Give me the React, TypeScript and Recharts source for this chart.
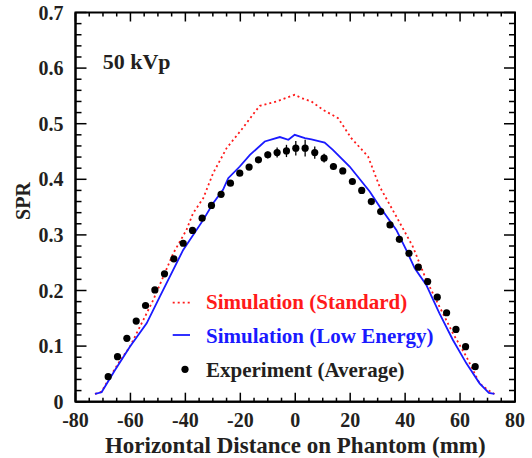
import { ComposedChart, Line, Scatter, ErrorBar, XAxis, YAxis } from 'recharts';

// experiment (average) points
const expX = [
  -68.1, -64.7, -61.3, -57.9, -54.5, -51.1, -47.6, -44.2, -40.8, -37.4,
  -33.9, -30.5, -27.0, -23.6, -20.2, -16.8, -13.4, -10.0, -6.6, -3.2,
  0.2, 3.6, 7.1, 10.5, 13.9, 17.3, 20.8, 24.2, 27.7, 31.1,
  34.5, 37.9, 41.4, 44.8, 48.2, 51.7, 55.1, 58.5, 62.0, 65.5,
];
const expY = [
  0.045, 0.081, 0.114, 0.145, 0.173, 0.201, 0.23, 0.257, 0.285, 0.308,
  0.33, 0.353, 0.373, 0.393, 0.411, 0.422, 0.435, 0.444, 0.448, 0.451,
  0.456, 0.456, 0.448, 0.438, 0.423, 0.415, 0.396, 0.38, 0.36, 0.342,
  0.318, 0.292, 0.267, 0.242, 0.216, 0.188, 0.16, 0.13, 0.099, 0.063,
];
const expErr = [
  0.003, 0.003, 0.003, 0.003, 0.003, 0.003, 0.003, 0.003, 0.003, 0.003,
  0.003, 0.003, 0.003, 0.003, 0.003, 0.004, 0.005, 0.006, 0.009, 0.011,
  0.013, 0.015, 0.011, 0.008, 0.006, 0.004, 0.003, 0.003, 0.003, 0.003,
  0.003, 0.003, 0.003, 0.003, 0.003, 0.003, 0.003, 0.003, 0.003, 0.003,
];

// simulation (standard)
const stdX = [
  -72.9, -70.5, -68.1, -64.4, -60.2, -55.3, -51.7, -47.5, -44.4, -39.6,
  -37.2, -33.5, -29.9, -25.0, -19.6, -14.1, -12.9, -6.8, -0.2, 2.3,
  5.9, 10.1, 15.6, 20.4, 26.5, 30.7, 36.8, 42.8, 47.7, 52.5,
  57.4, 62.3, 67.1, 70.1, 72.5,
];
const stdY = [
  0.014, 0.018, 0.039, 0.069, 0.099, 0.147, 0.183, 0.231, 0.267, 0.309,
  0.339, 0.366, 0.411, 0.456, 0.489, 0.525, 0.532, 0.54, 0.552, 0.546,
  0.54, 0.525, 0.51, 0.474, 0.441, 0.387, 0.333, 0.279, 0.219, 0.171,
  0.123, 0.081, 0.033, 0.021, 0.014,
];

// simulation (low energy)
const lowX = [
  -72.9, -70.5, -69.3, -65.6, -60.2, -54.1, -49.3, -40.8, -33.5, -29.9,
  -26.3, -24.4, -20.2, -16.5, -11.1, -5.6, -2.5, -0.2, 3.5, 5.9,
  10.7, 13.7, 19.8, 27.1, 30.7, 36.8, 40.4, 43.5, 47.7, 52.5,
  57.4, 62.3, 67.1, 70.5, 72.5,
];
const lowY = [
  0.014, 0.017, 0.027, 0.057, 0.099, 0.141, 0.189, 0.273, 0.327, 0.357,
  0.381, 0.402, 0.423, 0.444, 0.468, 0.476, 0.471, 0.48, 0.474, 0.472,
  0.466, 0.453, 0.423, 0.378, 0.351, 0.309, 0.273, 0.24, 0.21, 0.159,
  0.111, 0.069, 0.033, 0.016, 0.014,
];

const xMajor = [-80, -60, -40, -20, 0, 20, 40, 60, 80];
const yMajor = [0, 0.1, 0.2, 0.3, 0.4, 0.5, 0.6, 0.7];
const xTicks = Array.from({ length: 33 }, (_, i) => -80 + 5 * i);
const yTicks = Array.from({ length: 36 }, (_, i) => +(i * 0.02).toFixed(2));

const expData = expX.map((x, i) => ({ x, y: expY[i], err: expErr[i] }));
const stdData = stdX.map((x, i) => ({ x, y: stdY[i] }));
const lowData = lowX.map((x, i) => ({ x, y: lowY[i] }));

const FONT = '"Liberation Serif", "DejaVu Serif", serif';
const INK = '#231f20';
const RED = '#ff1a1a';
const BLUE = '#1a1aff';

// chart box
const W = 532;
const H = 458;
const MARGIN = { top: 12.5, right: 17, bottom: 0, left: 15.5 };
const Y_AXIS_W = 60;
const X_AXIS_H = 56.3;
const X_DOMAIN = [-80, 80];
const Y_DOMAIN = [0, 0.7];

// plot box, same numbers recharts uses for its offset
const PL = MARGIN.left + Y_AXIS_W;
const PR = W - MARGIN.right;
const PT = MARGIN.top;
const PB = H - MARGIN.bottom - X_AXIS_H;
const sx = (v: number) => PL + ((v - X_DOMAIN[0]) / (X_DOMAIN[1] - X_DOMAIN[0])) * (PR - PL);
const sy = (v: number) => PB - ((v - Y_DOMAIN[0]) / (Y_DOMAIN[1] - Y_DOMAIN[0])) * (PB - PT);

const isXMajor = (v: number) => xMajor.includes(v);
const isYMajor = (v: number) => yMajor.some((m) => Math.abs(m - v) < 1e-6);

const BottomTick = ({ x, y, payload }: any) => {
  const major = isXMajor(payload.value);
  return (
    <g>
      <line x1={x} y1={y} x2={x} y2={y - (major ? 9 : 4)} stroke='black' strokeWidth={1.5} />
      {major && (
        <text x={x} y={y + 25} textAnchor='middle' fontFamily={FONT} fontWeight='bold' fontSize={20} fill={INK}>
          {payload.value}
        </text>
      )}
    </g>
  );
};

const LeftTick = ({ x, y, payload }: any) => {
  const major = isYMajor(payload.value);
  return (
    <g>
      <line x1={x} y1={y} x2={x + (major ? 11 : 6)} y2={y} stroke='black' strokeWidth={1.5} />
      {major && (
        <text x={x - 12} y={y + 7} textAnchor='end' fontFamily={FONT} fontWeight='bold' fontSize={20} fill={INK}>
          {payload.value === 0 ? '0' : payload.value.toFixed(1)}
        </text>
      )}
    </g>
  );
};

const Dot = ({ cx, cy }: any) => <circle cx={cx} cy={cy} r={3.6} fill='#000' />;

// box around the plot plus the mirrored ticks on top and right
const Frame = () => {
  const d: string[] = [];
  xTicks.forEach((v) => d.push(`M${sx(v)},${PT}V${PT + (isXMajor(v) ? 9 : 4)}`));
  yTicks.forEach((v) => d.push(`M${PR},${sy(v)}H${PR - (isYMajor(v) ? 11 : 6)}`));
  return (
    <g>
      <rect x={PL} y={PT} width={PR - PL} height={PB - PT} fill='none' stroke='black' strokeWidth={2} />
      <path d={d.join('')} fill='none' stroke='black' strokeWidth={1.5} />
    </g>
  );
};

const App = () => {
  return (
    <div style={{ position: 'absolute', left: 0, top: 0, width: W, height: H }}>
      <ComposedChart width={W} height={H} margin={MARGIN}>
        <XAxis
          type='number'
          dataKey='x'
          domain={X_DOMAIN}
          ticks={xTicks}
          interval={0}
          height={X_AXIS_H}
          tickSize={0}
          tickMargin={0}
          tickLine={false}
          tick={<BottomTick />}
          axisLine={{ stroke: 'black', strokeWidth: 2 }}
        />
        <YAxis
          type='number'
          dataKey='y'
          domain={Y_DOMAIN}
          ticks={yTicks}
          interval={0}
          width={Y_AXIS_W}
          tickSize={0}
          tickMargin={0}
          tickLine={false}
          tick={<LeftTick />}
          axisLine={{ stroke: 'black', strokeWidth: 2 }}
        />

        <Line
          data={stdData}
          dataKey='y'
          name='Simulation (Standard)'
          type='linear'
          stroke={RED}
          strokeWidth={1.8}
          strokeDasharray='2 3'
          dot={false}
          isAnimationActive={false}
        />
        <Line
          data={lowData}
          dataKey='y'
          name='Simulation (Low Energy)'
          type='linear'
          stroke={BLUE}
          strokeWidth={1.8}
          dot={false}
          isAnimationActive={false}
        />
        <Scatter data={expData} dataKey='y' name='Experiment (Average)' fill='#000' shape={<Dot />} isAnimationActive={false}>
          <ErrorBar dataKey='err' direction='y' width={0} stroke='black' strokeWidth={1.3} isAnimationActive={false} />
        </Scatter>
      </ComposedChart>

      {/* frame, titles, annotation and legend */}
      <svg width={W} height={H} style={{ position: 'absolute', left: 0, top: 0, pointerEvents: 'none' }}>
        <Frame />
        <text x={102.7} y={69.3} fontFamily={FONT} fontWeight='bold' fontSize={22} fill={INK}>
          50 kVp
        </text>
        <text x={30} y={201} transform='rotate(-90 30 201)' textAnchor='middle' fontFamily={FONT} fontWeight='bold' fontSize={20} fill={INK}>
          SPR
        </text>
        <text x={295.3} y={452.5} textAnchor='middle' fontFamily={FONT} fontWeight='bold' fontSize={23} fill={INK}>
          Horizontal Distance on Phantom (mm)
        </text>

        <line x1={172.7} y1={302.7} x2={190} y2={302.7} stroke={RED} strokeWidth={1.8} strokeDasharray='2 3' />
        <text x={206} y={309.3} fontFamily={FONT} fontWeight='bold' fontSize={21} fill={RED}>
          Simulation (Standard)
        </text>
        <line x1={172.7} y1={335} x2={190} y2={335} stroke={BLUE} strokeWidth={1.8} />
        <text x={206} y={343.3} fontFamily={FONT} fontWeight='bold' fontSize={21} fill={BLUE}>
          Simulation (Low Energy)
        </text>
        <circle cx={185} cy={369.3} r={3.6} fill='#000' />
        <text x={206} y={376.7} fontFamily={FONT} fontWeight='bold' fontSize={21} fill={INK}>
          Experiment (Average)
        </text>
      </svg>
    </div>
  );
};

export default App;
